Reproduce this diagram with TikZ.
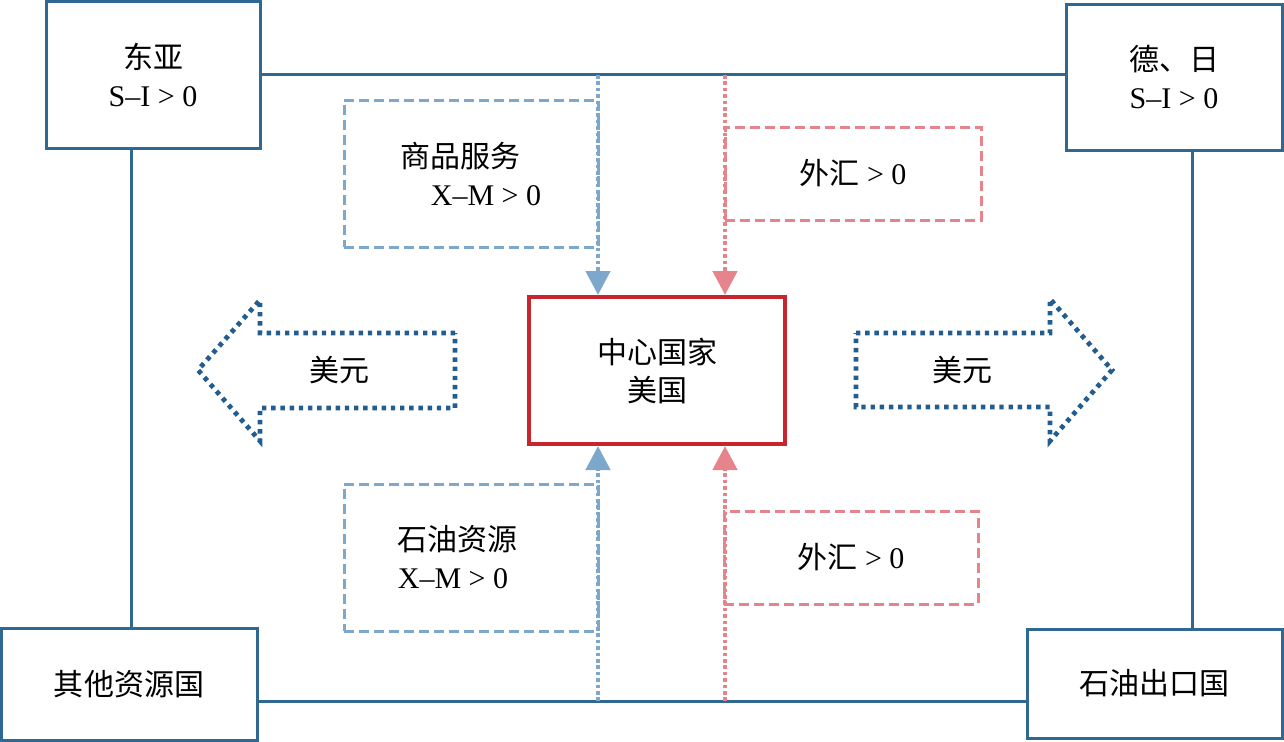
\documentclass[tikz,border=0pt]{standalone}
\usepackage{fontspec}
\setmainfont{Liberation Serif}
\newfontfamily\cjk{Noto Sans CJK SC}
\usetikzlibrary{arrows.meta, positioning}
\definecolor{boxblue}{HTML}{2F6891}
\definecolor{corered}{HTML}{C9252F}
\definecolor{flowblue}{HTML}{7DA7CB}
\definecolor{flowpink}{HTML}{E6848C}
\definecolor{dollarblue}{HTML}{235D8F}

\begin{document}
\begin{tikzpicture}[x=0.5pt,y=-0.5pt]
    % styles
    \tikzset{
        region/.style={draw=boxblue,line width=1.5pt,fill=white,align=center,inner sep=0pt,
            font=\fontsize{15pt}{19pt}\selectfont},
        core/.style={draw=corered,line width=2pt,fill=white,align=center,inner sep=0pt,
            minimum width=128pt,minimum height=73.5pt,font=\fontsize{15pt}{19pt}\selectfont},
        flowbox/.style={line width=1.5pt,dash pattern=on 5pt off 2.5pt,align=left,inner sep=0pt,
            font=\fontsize{15pt}{19pt}\selectfont},
        link/.style={boxblue,line width=1.5pt},
        flowline/.style={line width=2.3pt,dash pattern=on 1.8pt off 1.4pt,-{Triangle[width=12pt,length=12pt]}},
        dollar/.style={dollarblue,line width=2.4pt,dash pattern=on 2.2pt off 2.4pt,line join=miter},
        lbl/.style={font=\fontsize{15pt}{19pt}\selectfont}
    }
    \useasboundingbox (0,0) rectangle (1284,741);

    % country boxes
    \node[region,minimum width=107pt,minimum height=73.5pt] (EA)    at (153,74.5)    {{\cjk 东亚}\\S–I > 0};
    \node[region,minimum width=108pt,minimum height=73pt]   (DJ)    at (1174,77)     {{\cjk 德、日}\\S–I > 0};
    \node[region,minimum width=128pt,minimum height=56pt]   (Other) at (129,684)     {{\cjk 其他资源国}};
    \node[region,minimum width=127.5pt,minimum height=54.5pt] (Oil) at (1154.5,683.5) {{\cjk 石油出口国}};
    \node[core] (Core) at (657,370.5) {{\cjk 中心国家}\\{\cjk 美国}};

    % frame connections
    \coordinate (botL) at ([yshift=-8.5pt]Other.east);
    \coordinate (leftV) at ([xshift=1pt]Other.north);
    \coordinate (rightV) at ([xshift=19pt]Oil.north);
    \draw[link] (EA.east) -- (EA.east -| DJ.west);
    \draw[link] (botL) -- (botL -| Oil.west);
    \draw[link] (leftV) -- (leftV |- EA.south);
    \draw[link] (rightV) -- (rightV |- DJ.south);

    % flow boxes
    \node[flowbox,draw=flowblue,minimum width=127pt,minimum height=73.5pt] (Goods) at (471,173.5)
        {{\cjk 商品服务}\\\hspace*{1em}X–M > 0};
    \node[flowbox,draw=flowpink,minimum width=128pt,minimum height=46.5pt] (FXtop) at (853,173.5)
        {{\cjk 外汇} > 0};
    \node[flowbox,draw=flowblue,minimum width=127pt,minimum height=73.5pt] (OilRes) at (471,557.5)
        {{\cjk 石油资源}\\X–M > 0\hspace*{1.2em}};
    \node[flowbox,draw=flowpink,minimum width=127pt,minimum height=46.5pt] (FXbot) at (851,557.5)
        {{\cjk 外汇} > 0};

    % flows into the centre
    \coordinate (gIn)  at (598,75);
    \coordinate (fIn)  at (725,75);
    \coordinate (rIn)  at (598,701);
    \coordinate (fIn2) at (725,701);
    \draw[flowline,flowblue] (gIn)  -- (gIn |- Core.north);
    \draw[flowline,flowpink] (fIn)  -- (fIn |- Core.north);
    \draw[flowline,flowblue] (rIn)  -- (rIn |- Core.south);
    \draw[flowline,flowpink] (fIn2) -- (fIn2 |- Core.south);

    % dollar arrows
    \draw[dollar] (455,333) -- (260,333) -- (260,300) -- (198,370) -- (260,441)
        -- (260,408) -- (455,408) -- cycle;
    \draw[dollar] (856,333) -- (1050,333) -- (1050,299) -- (1112,370) -- (1050,441)
        -- (1050,407) -- (856,407) -- cycle;
    \node[lbl] (usdL) at (339,370) {\cjk 美元};
    \node[lbl] (usdR) at (962,370) {\cjk 美元};
\end{tikzpicture}
\end{document}
